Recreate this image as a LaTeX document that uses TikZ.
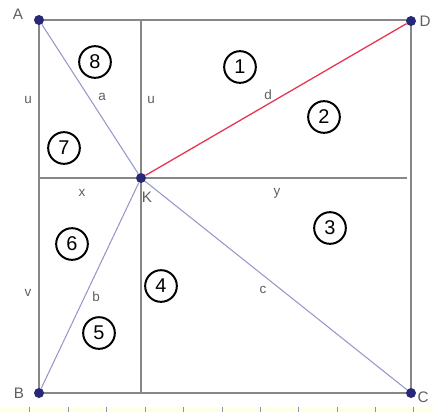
\documentclass[tikz,border=0pt]{standalone}
\usepackage{fontspec}
\setmainfont{Liberation Sans}
\usepackage{tikz}
\usetikzlibrary{positioning,calc}
\definecolor{ptblue}{RGB}{40,40,120}
\definecolor{seglav}{RGB}{150,150,205}
\definecolor{segred}{RGB}{232,52,82}
\definecolor{gridgray}{RGB}{135,135,135}
\definecolor{lblgray}{RGB}{95,95,95}
\definecolor{stripyel}{RGB}{255,255,228}
\tikzset{
  pt/.style={circle,fill=ptblue,inner sep=0pt,minimum size=0.3cm},
  lbl/.style={text=lblgray,font=\fontsize{11.5}{13}\selectfont,inner sep=1pt},
  region/.style={circle,draw=black,line width=1.7pt,inner sep=1pt,minimum size=0.95cm,font=\fontsize{17}{19}\selectfont}
}

\begin{document}
\begin{tikzpicture}[x=0.03cm,y=-0.03cm]
  \useasboundingbox (0,0) rectangle (433,412);
  % strip at the bottom
  \fill[stripyel] (0,408) rectangle (433,412);
  \foreach \t in {29,68,106,145,183,222,260,298,337,375,413}
    \draw[seglav!70!gray,thin] (\t,407)--(\t,412);
  % grid
  \coordinate (Kt) at (141,20);
  \coordinate (Kb) at (141,393);
  \coordinate (Kl) at (39,178);
  \coordinate (Kr) at (407,178);
  \draw[gridgray,line width=0.9pt] (39,20) rectangle (411,393);
  \draw[gridgray,line width=0.9pt] (Kt)--(Kb) (Kl)--(Kr);
  % points
  \node[pt] (A) at (39,20) {};
  \node[pt] (D) at (411,21) {};
  \node[pt] (B) at (39,393) {};
  \node[pt] (C) at (411,393) {};
  \node[pt] (K) at (141,178) {};
  \foreach \p/\x/\y in {A/18/14,D/425/21,B/19/393,C/423/397,K/147/197}
    \node[text=lblgray,font=\fontsize{13}{15}\selectfont,inner sep=1pt] (l\p) at (\x,\y) {\p};
  % segments
  \foreach \p in {A,B,C}
    \draw[seglav,line width=0.9pt] (K)--(\p);
  \draw[segred,line width=1.1pt] (K)--(D);
  % lengths
  \foreach \t/\x/\y in {u/28/100,u/151/100,a/102/97,x/82/193,y/277/193,d/268/95,v/28/293,b/96/297,c/263/290}
    \node[lbl] at (\x,\y) {\t};
  % regions
  \foreach \n/\x/\y in {1/240/67,2/324/117,3/330/228,4/161/286,5/99/333,6/72/244,7/64/148,8/95/62}
    \node[region] (r\n) at (\x,\y) {\n};
\end{tikzpicture}
\end{document}
